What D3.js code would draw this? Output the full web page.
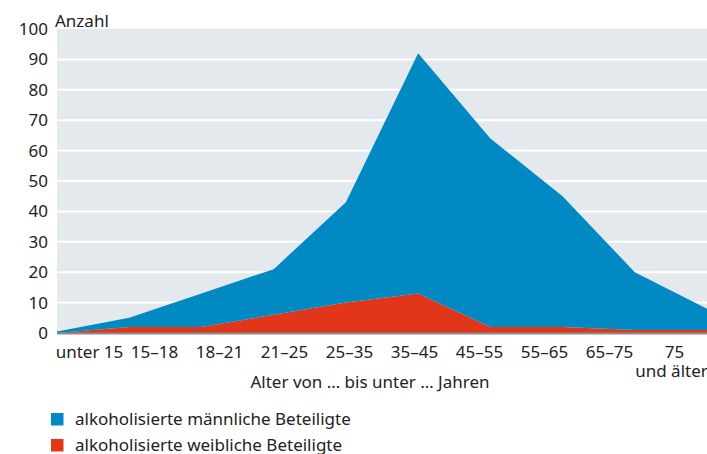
<!DOCTYPE html>
<html>
<head>
<meta charset="utf-8">
<script src="https://cdn.jsdelivr.net/npm/d3@7"></script>
<style>
  body { margin: 0; background: #fff; }
  svg text { font-family: "Noto Sans", sans-serif; fill: #222; }
</style>
</head>
<body>
<div id="chart"></div>
<script>
const ageGroups = ["unter 15", "15–18", "18–21", "21–25", "25–35", "35–45", "45–55", "55–65", "65–75", "75 und älter"];
const tickLabels = [["unter 15"], ["15–18"], ["18–21"], ["21–25"], ["25–35"], ["35–45"], ["45–55"], ["55–65"], ["65–75"], ["75", "und älter"]];
const femaleValues = [0, 2, 2, 6, 10, 13, 2, 2, 1, 1];
const maleValues = [0.5, 3, 11, 15, 33, 79, 62, 43, 19, 7];
const yTicks = [0, 10, 20, 30, 40, 50, 60, 70, 80, 90, 100];
const seriesNames = ["alkoholisierte männliche Beteiligte", "alkoholisierte weibliche Beteiligte"];

const width = 707, height = 454;
const margin = { top: 29, right: 0, bottom: 121, left: 57 };
const innerW = width - margin.left - margin.right;
const innerH = height - margin.top - margin.bottom;

const colors = { male: "#0089c2", female: "#e2361b" };
const fontSize = "17px";

const rows = ageGroups.map((g, i) => ({ group: g, female: femaleValues[i], male: maleValues[i] }));

const svg = d3.select("#chart")
  .append("svg")
  .attr("width", width)
  .attr("height", height)
  .append("g")
  .attr("transform", `translate(${margin.left},${margin.top})`);

const x = d3.scalePoint().domain(ageGroups).range([0, innerW]);
const xLabels = d3.scaleBand().domain(ageGroups).range([0, innerW]);
const y = d3.scaleLinear().domain([0, 100]).range([innerH, 0]);

// background + grid
svg.append("rect")
  .attr("width", innerW)
  .attr("height", innerH)
  .attr("fill", "#e4e9ee");

svg.append("g")
  .selectAll("line")
  .data(yTicks.filter((t) => t > 0 && t < 100))
  .enter()
  .append("line")
  .attr("x1", 0)
  .attr("x2", innerW)
  .attr("y1", (d) => y(d))
  .attr("y2", (d) => y(d))
  .attr("stroke", "#fff")
  .attr("stroke-width", 2);

// stacked areas
const stack = d3.stack().keys(["female", "male"]);
const stacked = stack(rows);

const area = d3.area()
  .x((d) => x(d.data.group))
  .y0((d) => y(d[0]))
  .y1((d) => y(d[1]));

svg.append("g")
  .selectAll("path")
  .data(stacked)
  .enter()
  .append("path")
  .attr("d", area)
  .attr("fill", (d) => colors[d.key]);

// baseline
svg.append("line")
  .attr("x1", 0)
  .attr("x2", innerW)
  .attr("y1", y(0) + 0.5)
  .attr("y2", y(0) + 0.5)
  .attr("stroke", "#8c8c8c")
  .attr("stroke-width", 2);

// y tick labels
svg.append("g")
  .selectAll("text")
  .data(yTicks)
  .enter()
  .append("text")
  .attr("x", -9)
  .attr("y", (d) => y(d))
  .attr("dy", "0.35em")
  .attr("text-anchor", "end")
  .style("font-size", fontSize)
  .text((d) => d);

svg.append("text")
  .attr("x", -2)
  .attr("y", -2.5)
  .style("font-size", fontSize)
  .text("Anzahl");

// x tick labels, one text per line
tickLabels.forEach((lines, i) => {
  const cx = xLabels(ageGroups[i]) + xLabels.bandwidth() / 2;
  lines.forEach((line, j) => {
    svg.append("text")
      .attr("x", cx - (j > 0 ? 3 : 0))
      .attr("y", innerH + 25 + j * 19)
      .attr("text-anchor", "middle")
      .style("font-size", fontSize)
      .text(line);
  });
});

svg.append("text")
  .attr("x", 313)
  .attr("y", innerH + 55)
  .attr("text-anchor", "middle")
  .style("font-size", fontSize)
  .text("Alter von … bis unter … Jahren");

// legend
const legend = svg.selectAll(".legend")
  .data(["male", "female"])
  .enter()
  .append("g")
  .attr("class", "legend")
  .attr("transform", (d, i) => `translate(-6,${innerH + 80 + i * 26})`);

legend.append("rect")
  .attr("width", 12.5)
  .attr("height", 12.5)
  .attr("fill", (d) => colors[d]);

legend.append("text")
  .attr("x", 24)
  .attr("y", 6)
  .attr("dy", "0.35em")
  .style("font-size", fontSize)
  .text((d, i) => seriesNames[i]);
</script>
</body>
</html>
